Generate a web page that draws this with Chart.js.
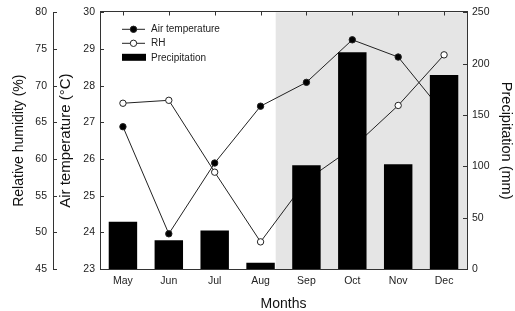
<!DOCTYPE html>
<html>
<head>
<meta charset="utf-8">
<script src="https://cdn.jsdelivr.net/npm/chart.js@4.4.1/dist/chart.umd.min.js"></script>
<style>
    html, body { margin: 0; padding: 0; background: #fff; }
    #wrap { width: 515px; height: 311px; }
</style>
</head>
<body>
<div id="wrap"><canvas id="chart"></canvas></div>
<script>
var months = ["May", "Jun", "Jul", "Aug", "Sep", "Oct", "Nov", "Dec"];
var airTemp = [26.88, 23.96, 25.89, 27.44, 28.09, 29.25, 28.78, 27.24];
var humidity = [67.6, 68.0, 58.2, 48.7, 57.1, 61.5, 67.3, 74.2];
var precipitation = [46, 28, 37.5, 6, 101, 211, 102, 189];

// shaded period starts a third of the way between Aug and Sep (category index units)
var shadeFrom = 3.33;

var ink = "#222";
var axisColor = "#333";
var family = "'Liberation Sans', Arial, sans-serif";

function fixWidth(w) {
    return function (scale) { scale.width = w; };
}

function inwardTicks(ctx, scale, x0, x1) {
    scale.ticks.forEach(function (t) {
        var y = Math.round(scale.getPixelForValue(t.value)) + 0.5;
        ctx.beginPath();
        ctx.moveTo(x0, y);
        ctx.lineTo(x1, y);
        ctx.stroke();
    });
}

var framePlugin = {
    id: "frame",
    beforeDraw: function (chart) {
        var ctx = chart.ctx, a = chart.chartArea, x = chart.scales.x;
        var base = Math.floor(shadeFrom);
        var step = x.getPixelForValue(1) - x.getPixelForValue(0);
        var left = x.getPixelForValue(base) + step * (shadeFrom - base);
        ctx.save();
        ctx.fillStyle = "#e5e5e5";
        ctx.fillRect(left, a.top, a.right - left, a.bottom - a.top);
        ctx.restore();
    },
    afterDraw: function (chart) {
        var ctx = chart.ctx, a = chart.chartArea, s = chart.scales;
        ctx.save();
        ctx.strokeStyle = axisColor;
        ctx.lineWidth = 1;
        // top frame line
        var top = Math.round(a.top) - 0.5;
        ctx.beginPath();
        ctx.moveTo(a.left, top);
        ctx.lineTo(a.right + 1, top);
        ctx.stroke();
        // ticks all point inward
        months.forEach(function (m, i) {
            var x = Math.round(s.x.getPixelForValue(i)) + 0.5;
            ctx.beginPath();
            ctx.moveTo(x, top);
            ctx.lineTo(x, top + 4);
            ctx.stroke();
        });
        inwardTicks(ctx, s.yRH, s.yRH.right, s.yRH.right + 4);
        inwardTicks(ctx, s.yT, a.left, a.left + 4);
        inwardTicks(ctx, s.yP, a.right - 4, a.right);

        // legend
        var ds = chart.data.datasets;
        var lx = a.left + 22, ly = a.top + 17;
        ctx.font = "10px " + family;
        ctx.textBaseline = "middle";
        ctx.fillStyle = ink;
        [0, 1].forEach(function (k) {
            var y = ly + k * 14;
            ctx.strokeStyle = "#222";
            ctx.beginPath();
            ctx.moveTo(lx, y);
            ctx.lineTo(lx + 23, y);
            ctx.stroke();
            ctx.beginPath();
            ctx.arc(lx + 11.5, y, 3.2, 0, Math.PI * 2);
            ctx.fillStyle = ds[k].pointBackgroundColor;
            ctx.fill();
            ctx.stroke();
            ctx.fillStyle = ink;
            ctx.fillText(ds[k].label, lx + 29, y);
        });
        ctx.fillStyle = "#000";
        ctx.fillRect(lx, ly + 24.5, 24, 7);
        ctx.fillStyle = ink;
        ctx.fillText(ds[2].label, lx + 29, ly + 28.5);
        ctx.restore();
    }
};

var tickFont = { family: family, size: 10.5 };

new Chart(document.getElementById("chart"), {
    data: {
        labels: months,
        datasets: [
            {
                type: "line",
                label: "Air temperature",
                data: airTemp,
                yAxisID: "yT",
                order: 2,
                borderColor: "#222",
                borderWidth: 1,
                pointRadius: 3.2,
                pointBackgroundColor: "#000",
                pointBorderColor: "#222",
                pointBorderWidth: 1,
            },
            {
                type: "line",
                label: "RH",
                data: humidity,
                yAxisID: "yRH",
                order: 1,
                borderColor: "#222",
                borderWidth: 1,
                pointRadius: 3.2,
                pointBackgroundColor: "#fff",
                pointBorderColor: "#222",
                pointBorderWidth: 1,
            },
            {
                type: "bar",
                label: "Precipitation",
                data: precipitation,
                yAxisID: "yP",
                order: 0,
                backgroundColor: "#000",
                barPercentage: 0.62,
                categoryPercentage: 1.0,
            },
        ],
    },
    options: {
        responsive: true,
        maintainAspectRatio: false,
        animation: false,
        layout: { padding: { top: 6, left: 0, right: 0, bottom: 0 } },
        plugins: { legend: { display: false }, tooltip: { enabled: false } },
        scales: {
            x: {
                type: "category",
                grid: { display: false, drawTicks: false },
                border: { display: true, color: axisColor, width: 1 },
                ticks: { color: ink, font: tickFont, padding: 6 },
                title: { display: true, text: "Months", color: "#111", font: { family: family, size: 14 }, padding: { top: 7, bottom: -1.5 } },
                afterFit: function (scale) { scale.height = 42; },
            },
            yRH: {
                position: "left",
                weight: 2,
                min: 45,
                max: 80,
                ticks: { stepSize: 5, color: ink, font: tickFont, padding: 6 },
                grid: { display: false, drawTicks: false },
                border: { display: true, color: axisColor, width: 1 },
                title: { display: true, text: "Relative humidity (%)", color: "#111", font: { family: family, size: 14 }, padding: { top: 11, bottom: 0 } },
                afterFit: fixWidth(53),
            },
            yT: {
                position: "left",
                weight: 1,
                min: 23,
                max: 30,
                ticks: { stepSize: 1, color: ink, font: tickFont, padding: 5 },
                grid: { display: false, drawTicks: false },
                border: { display: true, color: axisColor, width: 1 },
                title: { display: true, text: "Air temperature (°C)", color: "#111", font: { family: family, size: 15 }, padding: { top: 4, bottom: 0 } },
                afterFit: fixWidth(47),
            },
            yP: {
                position: "right",
                min: 0,
                max: 250,
                ticks: { stepSize: 50, color: ink, font: tickFont, padding: 5 },
                grid: { display: false, drawTicks: false },
                border: { display: true, color: axisColor, width: 1 },
                title: { display: true, text: "Precipitation (mm)", color: "#111", font: { family: family, size: 14.5 }, padding: { top: 0, bottom: 0 } },
                afterFit: fixWidth(48),
            },
        },
    },
    plugins: [framePlugin],
});
</script>
</body>
</html>
